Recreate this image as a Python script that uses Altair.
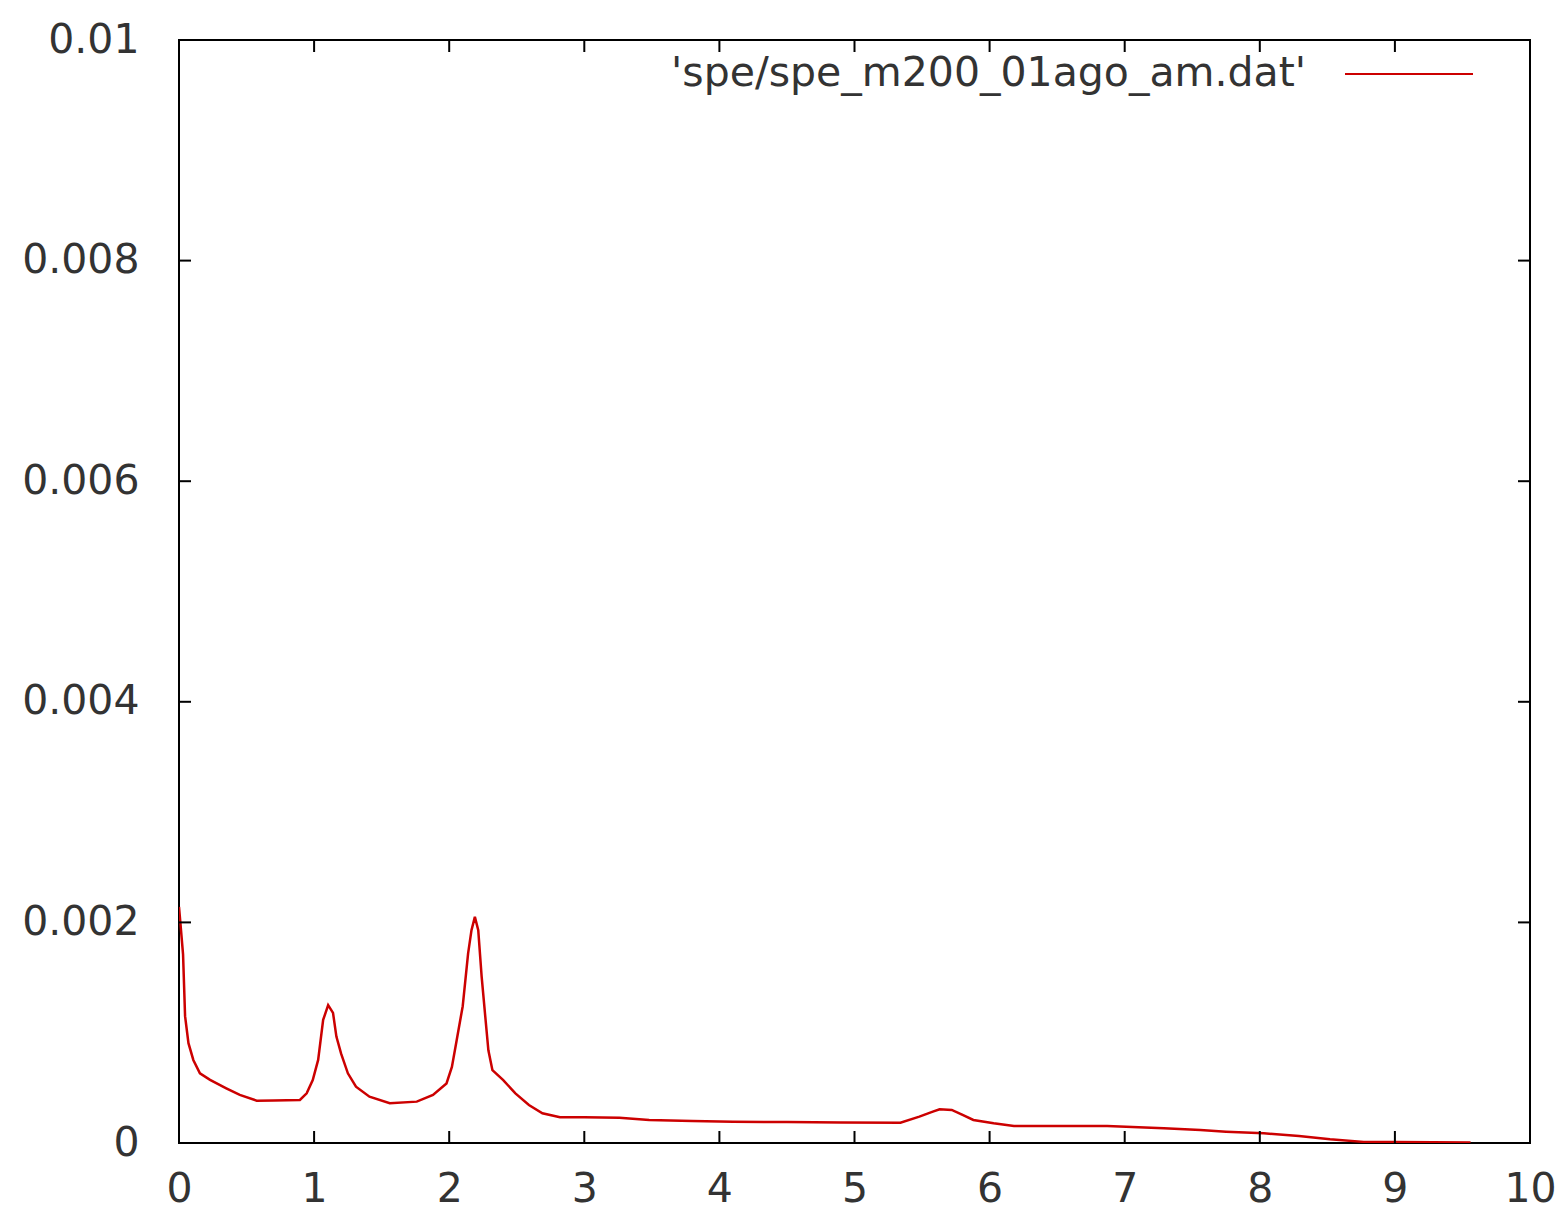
import altair as alt
import pandas as pd

# Spectrum values
xs = [0.0, 0.01, 0.03, 0.045, 0.07, 0.106, 0.155, 0.23, 0.35, 0.45, 0.575, 0.7, 0.895,
      0.945, 0.99, 1.03, 1.067, 1.104, 1.14, 1.165, 1.2, 1.25, 1.31, 1.41, 1.56, 1.76,
      1.88, 1.98, 2.02, 2.055, 2.1, 2.14, 2.165, 2.19, 2.215, 2.24, 2.26, 2.29, 2.32,
      2.4, 2.49, 2.59, 2.69, 2.82, 3.0, 3.26, 3.48, 3.8, 4.1, 4.5, 4.9, 5.34, 5.48,
      5.58, 5.63, 5.72, 5.8, 5.88, 6.03, 6.18, 6.45, 6.72, 6.87, 7.29, 7.56, 7.75,
      8.03, 8.29, 8.52, 8.77, 9.0, 9.56]
ys = [2.14e-3, 2.0e-3, 1.71e-3, 1.15e-3, 0.905e-3, 0.753e-3, 0.632e-3, 0.572e-3,
      0.496e-3, 0.436e-3, 0.384e-3, 0.385e-3, 0.39e-3, 0.45e-3, 0.57e-3, 0.753e-3,
      1.116e-3, 1.25e-3, 1.18e-3, 0.965e-3, 0.81e-3, 0.632e-3, 0.51e-3, 0.42e-3,
      0.36e-3, 0.375e-3, 0.436e-3, 0.54e-3, 0.69e-3, 0.93e-3, 1.24e-3, 1.72e-3,
      1.93e-3, 2.05e-3, 1.93e-3, 1.51e-3, 1.24e-3, 0.84e-3, 0.66e-3, 0.57e-3,
      0.45e-3, 0.345e-3, 0.27e-3, 0.233e-3, 0.233e-3, 0.228e-3, 0.209e-3, 0.2e-3,
      0.193e-3, 0.19e-3, 0.186e-3, 0.184e-3, 0.239e-3, 0.284e-3, 0.305e-3, 0.3e-3,
      0.254e-3, 0.209e-3, 0.179e-3, 0.154e-3, 0.154e-3, 0.154e-3, 0.154e-3,
      0.133e-3, 0.118e-3, 0.103e-3, 0.088e-3, 0.064e-3, 0.034e-3, 0.01e-3,
      0.008e-3, 0.005e-3]

x_ticks = [0, 1, 2, 3, 4, 5, 6, 7, 8, 9, 10]
y_ticks = [0, 0.002, 0.004, 0.006, 0.008, 0.01]
legend_label = "'spe/spe_m200_01ago_am.dat'"

W, H = 1351, 1103
FONT = "DejaVu Sans"
FS = 41
TXT = "#333333"
RED = "#cc0000"
TL = 12

df = pd.DataFrame({"x": xs, "y": ys})
xt = pd.DataFrame({"t": x_ticks[1:-1]})
yt = pd.DataFrame({"t": y_ticks[1:-1]})

xscale = alt.Scale(domain=[0, 10], nice=False, zero=False)
yscale = alt.Scale(domain=[0, 0.01], nice=False)

line = alt.Chart(df).mark_line(color=RED, strokeWidth=2.5, clip=True).encode(
    x=alt.X("x:Q", scale=xscale, title=None,
            axis=alt.Axis(values=x_ticks, format="d", ticks=False, domain=False,
                          grid=False, labelFont=FONT, labelFontSize=FS,
                          labelColor=TXT, labelPadding=26, labelFlush=False)),
    y=alt.Y("y:Q", scale=yscale, title=None,
            axis=alt.Axis(values=y_ticks, format="~g", ticks=False, domain=False,
                          grid=False, labelFont=FONT, labelFontSize=FS,
                          labelColor=TXT, labelPadding=40, labelFlush=False)),
)

bottom = alt.Chart(xt).mark_rule(color="black", strokeWidth=2).encode(
    x=alt.X("t:Q", scale=xscale), y=alt.value(H), y2=alt.value(H - TL))
top = alt.Chart(xt).mark_rule(color="black", strokeWidth=2).encode(
    x=alt.X("t:Q", scale=xscale), y=alt.value(0), y2=alt.value(TL))
left = alt.Chart(yt).mark_rule(color="black", strokeWidth=2).encode(
    y=alt.Y("t:Q", scale=yscale), x=alt.value(0), x2=alt.value(TL))
right = alt.Chart(yt).mark_rule(color="black", strokeWidth=2).encode(
    y=alt.Y("t:Q", scale=yscale), x=alt.value(W - TL), x2=alt.value(W))

leg = pd.DataFrame({"label": [legend_label]})
leg_text = alt.Chart(leg).mark_text(
    align="right", baseline="middle", font=FONT, fontSize=FS, color=TXT
).encode(text="label:N", x=alt.value(1127), y=alt.value(34))
leg_line = alt.Chart(leg).mark_rule(color=RED, strokeWidth=2).encode(
    x=alt.value(1166), x2=alt.value(1294), y=alt.value(34))

chart = alt.layer(line, bottom, top, left, right, leg_text, leg_line).properties(
    width=W, height=H,
    autosize=alt.AutoSizeParams(type="none"),
    padding={"left": 171, "top": 32, "right": 27, "bottom": 70},
    background="white",
).configure_view(stroke="black", strokeWidth=2)

chart.save("out.html", embed_options={"renderer": "svg", "actions": False})
